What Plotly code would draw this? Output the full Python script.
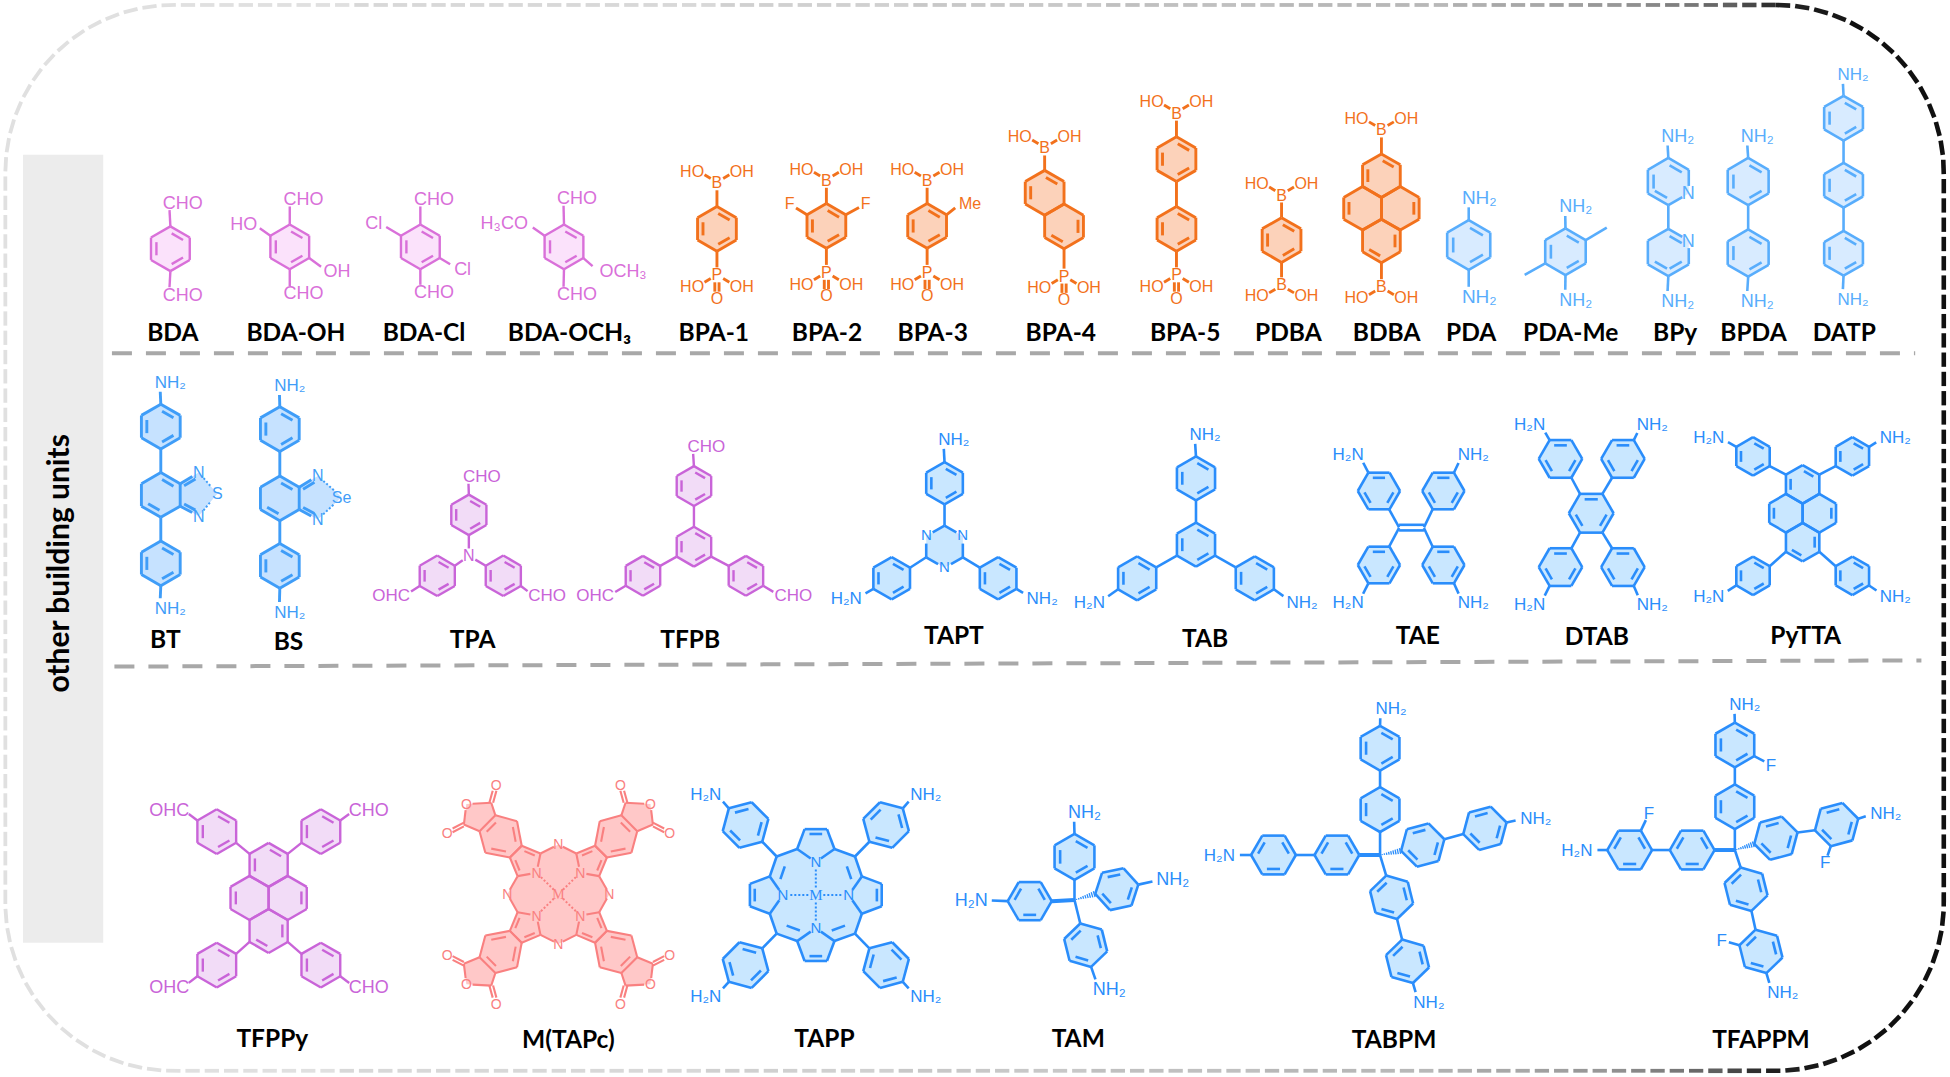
import numpy as np
import plotly.graph_objects as go

# --------------------------
# Compound names and where they sit (picture units, 1568 x 866)
# --------------------------
unit_names = ["BDA", "BDA-OH", "BDA-Cl", "BDA-OCH₃", "BPA-1", "BPA-2", "BPA-3", "BPA-4", "BPA-5",
              "PDBA", "BDBA", "PDA", "PDA-Me", "BPy", "BPDA", "DATP",
              "BT", "BS", "TPA", "TFPB", "TAPT", "TAB", "TAE", "DTAB", "PyTTA",
              "TFPPy", "M(TAPc)", "TAPP", "TAM", "TABPM", "TFAPPM"]
unit_x = [139, 238, 341, 458, 574, 665, 750, 853, 953, 1036, 1115, 1183, 1263, 1347, 1410, 1483,
          133, 232, 380, 555, 767, 969, 1140, 1284, 1452,
          219, 457, 663, 867, 1121, 1416]
unit_y = [269] * 16 + [516, 518, 516, 516, 513, 515, 513, 514, 513] + [837, 838, 837, 837, 838, 838]
side_title = "other building units"

PINK, PINK_F = "#d970d9", "#fbe2fb"
ORANGE, ORANGE_F = "#f2711c", "#fcd2ba"
BLUE1, BLUE1_F = "#58adfc", "#d8ebff"
BLUE2, BLUE2_F = "#3f9df8", "#c6e2ff"
BLUE3, BLUE3_F = "#2a8dfb", "#c9e7ff"
CORAL, CORAL_F = "#f98080", "#ffc8c8"
PINK2, PINK2_F = "#c964d8", "#f2dcf7"
FILLS = {PINK: PINK_F, ORANGE: ORANGE_F, BLUE1: BLUE1_F, BLUE2: BLUE2_F, BLUE3: BLUE3_F, CORAL: CORAL_F,
         PINK2: PINK2_F}
WIDTHS = {PINK: 2.4, ORANGE: 2.9, BLUE1: 2.6, BLUE2: 2.9, BLUE3: 2.6, CORAL: 2.1, PINK2: 2.4}
ATOM_FONT = "Liberation Sans"

W, H = 1568, 866
lines, fills, under, dots, bolds, hashes, texts = {}, {}, {}, {}, {}, {}, {}


# --------------------------
# Helpers for the drawing
# --------------------------
def bd(p, q, col, store=None):
    s = lines if store is None else store
    xs, ys = s.setdefault(col, ([], []))
    xs += [p[0], q[0], None]
    ys += [p[1], q[1], None]


def trim(p, q, a=0.0, b=0.0):
    p, q = np.array(p, float), np.array(q, float)
    u = (q - p) / np.linalg.norm(q - p)
    return tuple(p + u * a), tuple(q - u * b)


def txt(x, y, s, col, size=17, font=ATOM_FONT, weight="normal"):
    if font == ATOM_FONT:
        size = round(size * 1.04)
    xs, ys, ss = texts.setdefault((col, size, font, weight), ([], [], []))
    xs.append(x)
    ys.append(y + 1.2)
    ss.append(s)


def fill_poly(pts, col, store=None):
    s = fills if store is None else store
    xs, ys = s.setdefault(FILLS[col], ([], []))
    for p in list(pts) + [pts[0]]:
        xs.append(p[0])
        ys.append(p[1])
    xs.append(None)
    ys.append(None)


def inner(p, q, c, col, k=0.72):
    c = np.array(c, float)
    a = c + k * (np.array(p, float) - c)
    b = c + k * (np.array(q, float) - c)
    bd(*trim(a, b, 1.2, 1.2), col)


def ring(cx, cy, R, col, a=-90, db=(0, 2, 4), het=()):
    v = [(cx + R * np.cos(np.radians(a + 60 * i)), cy + R * np.sin(np.radians(a + 60 * i))) for i in range(6)]
    fill_poly(v, col)
    for i in range(6):
        j = (i + 1) % 6
        bd(*trim(v[i], v[j], 6 if i in het else 0, 6 if j in het else 0), col)
        if i in db:
            inner(v[i], v[j], (cx, cy), col)
    return v


def pyrene(cx, cy, R, col):
    d = 0.866 * R
    top = ring(cx, cy - 1.5 * R, R, col, db=(0, 4))
    left = ring(cx - d, cy, R, col, db=(4,))
    right = ring(cx + d, cy, R, col, db=(1,))
    bot = ring(cx, cy + 1.5 * R, R, col, db=(1, 3))
    return top, left, right, bot


def grp(p, lx, ly, s, col, ox=0, oy=0, gap=8, size=17):
    bd(*trim(p, (lx + ox, ly + oy), 0, gap), col)
    txt(lx, ly, s, col, size)


def nh2(p, lx, ly, col, left=False, size=17):
    if left:
        grp(p, lx, ly, "H₂N", col, ox=8.5, size=size)
    else:
        grp(p, lx, ly, "NH₂", col, ox=-8.5, size=size)


def cho(p, lx, ly, col, left=False, size=17):
    if left:
        grp(p, lx, ly, "OHC", col, ox=11, gap=6, size=size)
    else:
        grp(p, lx, ly, "CHO", col, ox=-11, gap=6, size=size)


def boron(v, yb, col, down=False, dx=20, size=15):
    s = -1 if down else 1
    cx = v[0]
    bd(v, (cx, yb + s * 6), col)
    txt(cx, yb, "B", col, size)
    yo = yb - s * 9
    txt(cx - dx, yo, "HO", col, size)
    txt(cx + dx, yo, "OH", col, size)
    bd((cx - 5, yb - s * 3.5), (cx - 10, yb - s * 6.5), col)
    bd((cx + 5, yb - s * 3.5), (cx + 10, yb - s * 6.5), col)


def phosphono(v, yp, col, dx=20, size=15):
    cx = v[0]
    bd(v, (cx, yp - 6), col)
    txt(cx, yp, "P", col, size)
    txt(cx - dx, yp + 9.5, "HO", col, size)
    txt(cx + dx, yp + 9.5, "OH", col, size)
    bd((cx - 5, yp + 3), (cx - 10, yp + 6), col)
    bd((cx + 5, yp + 3), (cx + 10, yp + 6), col)
    bd((cx - 1.7, yp + 6), (cx - 1.7, yp + 13.5), col)
    bd((cx + 1.7, yp + 6), (cx + 1.7, yp + 13.5), col)
    txt(cx, yp + 19, "O", col, size)


def hash_bond(p, q, col):
    p, q = np.array(p, float), np.array(q, float)
    u = (q - p) / np.linalg.norm(q - p)
    n = np.array([-u[1], u[0]])
    for i, t in enumerate(np.linspace(0.1, 0.95, 9)):
        m = p + (q - p) * t
        w = 0.4 + 0.25 * i
        bd(tuple(m - n * w), tuple(m + n * w), col, hashes)


def arm(c, centers, R, a, col, style="plain", dbs=None):
    # rings on a chain leaving the central carbon, vertex 0 points away from it
    last = c
    for k, rc in enumerate(centers):
        v = ring(rc[0], rc[1], R, col, a=a, db=(0, 2, 4) if dbs is None else dbs[k])
        if k == 0 and style == "bold":
            bd(last, v[3], col, bolds)
        elif k == 0 and style == "hash":
            hash_bond(last, v[3], col)
        else:
            bd(last, v[3], col)
        last = v[0]
    return last, v


# --------------------------
# Row 1: two-connected units
# --------------------------
v = ring(137, 200, 18, PINK)
cho(v[0], 147, 163, PINK)
cho(v[3], 147, 237, PINK)

v = ring(233, 198.5, 18, PINK)
cho(v[0], 244, 160, PINK)
cho(v[3], 244, 236, PINK)
grp(v[5], 196, 180, "HO", PINK, ox=8, gap=6)
grp(v[2], 271, 218, "OH", PINK, ox=-8, gap=6)

v = ring(338, 198.5, 18, PINK)
cho(v[0], 349, 160, PINK)
cho(v[3], 349, 235, PINK)
grp(v[5], 300.5, 179, "Cl", PINK, ox=4, gap=7)
grp(v[2], 372, 216, "Cl", PINK, ox=-4, gap=7)

v = ring(453.5, 198.5, 18, PINK)
cho(v[0], 464, 159.5, PINK)
cho(v[3], 464, 236.5, PINK)
grp(v[5], 405.5, 179.5, "H₃CO", PINK, ox=18, gap=6)
grp(v[2], 501, 218, "OCH₃", PINK, ox=-20, gap=6)

v = ring(576.5, 184, 18, ORANGE)
boron(v[0], 147, ORANGE)
phosphono(v[3], 221, ORANGE)

v = ring(664.5, 181.7, 18, ORANGE)
boron(v[0], 145, ORANGE)
phosphono(v[3], 219, ORANGE)
grp(v[5], 635, 164, "F", ORANGE, gap=6, size=15)
grp(v[1], 696, 164, "F", ORANGE, gap=6, size=15)

v = ring(745.5, 181.7, 18, ORANGE)
boron(v[0], 145, ORANGE)
phosphono(v[3], 219, ORANGE)
grp(v[1], 780, 164, "Me", ORANGE, ox=-8, gap=5, size=15)

v = ring(840, 155, 18, ORANGE, db=(0, 4))
boron(v[0], 119, ORANGE)
v = ring(855.6, 182, 18, ORANGE, db=(1, 3))
phosphono(v[3], 222, ORANGE)

v = ring(946, 128, 18, ORANGE)
boron(v[0], 91, ORANGE)
v2 = ring(946, 184, 18, ORANGE)
bd(v[3], v2[0], ORANGE)
phosphono(v2[3], 221, ORANGE)

v = ring(1030.5, 193, 18, ORANGE)
boron(v[0], 156.8, ORANGE)
boron(v[3], 229, ORANGE, down=True)

top, left, right, bot = pyrene(1110.8, 167.5, 17.5, ORANGE)
boron(top[0], 104.5, ORANGE)
boron(bot[3], 230.5, ORANGE, down=True)

v = ring(1181, 197, 20, BLUE1)
nh2(v[0], 1189.5, 158.7, BLUE1, size=18)
nh2(v[3], 1189.5, 238.6, BLUE1, size=18)

v = ring(1258.8, 202.4, 18.8, BLUE1)
nh2(v[0], 1267, 165.6, BLUE1)
nh2(v[3], 1267, 241, BLUE1)
bd(v[1], (1292, 183), BLUE1)
bd(v[4], (1226, 221), BLUE1)

v = ring(1341.5, 146, 19, BLUE1, het=(2,), db=(0, 3, 4))
nh2(v[0], 1349, 109, BLUE1)
v2 = ring(1341.5, 203, 19, BLUE1, het=(1,), db=(0, 2, 3))
nh2(v2[3], 1349, 242, BLUE1)
bd(v[3], v2[0], BLUE1)
txt(1357.6, 155.5, "N", BLUE1)
txt(1357.6, 193.5, "N", BLUE1)

v = ring(1405.7, 146, 19, BLUE1)
nh2(v[0], 1413, 109, BLUE1)
v2 = ring(1405.7, 203.5, 19, BLUE1)
nh2(v2[3], 1413, 242, BLUE1)
bd(v[3], v2[0], BLUE1)

v = ring(1482.4, 95, 18, BLUE1)
nh2(v[0], 1490, 59.5, BLUE1, size=16)
v2 = ring(1482.4, 149, 18, BLUE1)
v3 = ring(1482.4, 203.7, 18, BLUE1)
nh2(v3[3], 1490, 240.5, BLUE1, size=16)
bd(v[3], v2[0], BLUE1)
bd(v2[3], v3[0], BLUE1)

# rows 2 and 3 use a cooler pink
PINK = PINK2


# --------------------------
# Row 2
# --------------------------
def benzo_azole(cx, cy, xe, ye, label, col):
    v = ring(cx, cy, 18, col, db=(0, 3))
    up, dn = (cx + 30.5, cy - 18), (cx + 30.5, cy + 17)
    e = (xe, ye)
    fill_poly([v[1], up, e, dn, v[2]], col)
    bd(*trim(v[1], up, 0, 6), col)
    bd(*trim(v[2], dn, 0, 6), col)
    inner(v[1], up, (cx + 24, cy), col, 0.75)
    inner(v[2], dn, (cx + 24, cy), col, 0.75)
    for q in (up, dn):
        xs = trim(q, e, 6, 8)
        bd(*xs, col, dots)
    txt(up[0], up[1], "N", col, 15)
    txt(dn[0], dn[1], "N", col, 15)
    txt(xe, ye, label, col, 15)
    return v


v = ring(129.3, 343, 18, BLUE2)
nh2(v[0], 137, 307, BLUE2, size=16)
m = benzo_azole(129.3, 398, 174.7, 397, "S", BLUE2)
v3 = ring(129.3, 453, 18, BLUE2)
nh2(v3[3], 137, 489, BLUE2, size=16)
bd(v[3], m[0], BLUE2)
bd(m[3], v3[0], BLUE2)

v = ring(225, 345, 18, BLUE2)
nh2(v[0], 233, 309.6, BLUE2, size=16)
m = benzo_azole(225, 400.7, 274.7, 399.7, "Se", BLUE2)
v3 = ring(225, 455, 18, BLUE2)
nh2(v3[3], 233, 492, BLUE2, size=16)
bd(v[3], m[0], BLUE2)
bd(m[3], v3[0], BLUE2)

v = ring(377, 414, 16.3, PINK)
cho(v[0], 387.5, 383, PINK, size=16)
lf = ring(351.6, 463, 16.3, PINK)
rt = ring(404.7, 463, 16.3, PINK)
bd(*trim(v[3], (377, 447), 0, 6), PINK)
bd(*trim(lf[1], (377, 447), 0, 6), PINK)
bd(*trim(rt[5], (377, 447), 0, 6), PINK)
txt(377, 447, "N", PINK, 15)
cho(lf[4], 314.5, 479, PINK, left=True, size=16)
cho(rt[2], 440, 479, PINK, size=16)

c = ring(558, 439.6, 16, PINK)
v = ring(558, 390.8, 16, PINK)
lf = ring(517, 463, 16, PINK)
rt = ring(599.8, 463, 16, PINK)
bd(c[0], v[3], PINK)
bd(c[4], lf[1], PINK)
bd(c[2], rt[5], PINK)
cho(v[0], 568, 359, PINK, size=16)
cho(lf[4], 478.5, 479, PINK, left=True, size=16)
cho(rt[2], 638, 479, PINK, size=16)

c = ring(759.5, 439.6, 17, BLUE3, het=(1, 3, 5), db=())
v = ring(759.5, 388.6, 17, BLUE3)
lf = ring(717, 465, 17, BLUE3)
rt = ring(802.6, 465, 17, BLUE3)
bd(c[0], v[3], BLUE3)
bd(c[4], lf[1], BLUE3)
bd(c[2], rt[5], BLUE3)
txt(745, 430, "N", BLUE3, 14)
txt(774, 430, "N", BLUE3, 14)
txt(759.5, 456, "N", BLUE3, 14)
nh2(v[0], 767, 353, BLUE3, size=16)
nh2(lf[4], 680.5, 481, BLUE3, left=True, size=16)
nh2(rt[2], 838, 481, BLUE3, size=16)

c = ring(961.7, 438, 17.7, BLUE3)
v = ring(961.7, 384.6, 17.7, BLUE3)
lf = ring(914.4, 465, 17.7, BLUE3)
rt = ring(1009, 465, 17.7, BLUE3)
bd(c[0], v[3], BLUE3)
bd(c[4], lf[1], BLUE3)
bd(c[2], rt[5], BLUE3)
nh2(v[0], 969, 349, BLUE3, size=16)
nh2(lf[4], 876, 484, BLUE3, left=True, size=16)
nh2(rt[2], 1047, 484, BLUE3, size=16)

# TAE, flat rings round a C=C
xl, xr, yu, yd = 1108.8, 1160.6, 394.8, 454.3
ul = ring(xl, yu, 17, BLUE3, a=0, db=(2, 4, 0))
ur = ring(xr, yu, 17, BLUE3, a=0, db=(2, 4, 0))
dl = ring(xl, yd, 17, BLUE3, a=0, db=(2, 4, 0))
dr = ring(xr, yd, 17, BLUE3, a=0, db=(2, 4, 0))
bd((1125, 422), (1145, 422), BLUE3)
bd((1125, 426.5), (1145, 426.5), BLUE3)
bd((1125, 424), (1117, ul[1][1]), BLUE3)
bd((1145, 424), (1152, ur[2][1]), BLUE3)
bd((1125, 424.5), (1117, dl[5][1]), BLUE3)
bd((1145, 424.5), (1152, dr[4][1]), BLUE3)
nh2(ul[4], 1084, 365, BLUE3, left=True, size=16)
nh2(ur[5], 1184.7, 365, BLUE3, size=16)
nh2(dl[2], 1084, 484.6, BLUE3, left=True, size=16)
nh2(dr[1], 1184.7, 484.6, BLUE3, size=16)

# DTAB
c = ring(1279.5, 412.7, 18, BLUE3, a=0, db=(2, 4, 0))
ul = ring(1254.8, 369, 17.5, BLUE3, a=0, db=(2, 4, 0))
ur = ring(1305, 369, 17.5, BLUE3, a=0, db=(2, 4, 0))
dl = ring(1254.8, 456, 17.5, BLUE3, a=0, db=(2, 4, 0))
dr = ring(1305, 456, 17.5, BLUE3, a=0, db=(2, 4, 0))
bd(ul[1], c[4], BLUE3)
bd(ur[2], c[5], BLUE3)
bd(dl[5], c[2], BLUE3)
bd(dr[4], c[1], BLUE3)
nh2(ul[4], 1230, 341, BLUE3, left=True, size=16)
nh2(ur[5], 1328.6, 341, BLUE3, size=16)
nh2(dl[2], 1230, 486, BLUE3, left=True, size=16)
nh2(dr[1], 1328.6, 486, BLUE3, size=16)

# PyTTA
top, left, right, bot = pyrene(1449.5, 412.7, 15.5, BLUE3)
ul = ring(1409.6, 367, 15.5, BLUE3)
ur = ring(1489.5, 367, 15.5, BLUE3)
dl = ring(1409.6, 463, 15.5, BLUE3)
dr = ring(1489.5, 463, 15.5, BLUE3)
bd(top[5], ul[2], BLUE3)
bd(top[1], ur[4], BLUE3)
bd(bot[4], dl[1], BLUE3)
bd(bot[2], dr[5], BLUE3)
nh2(ul[5], 1374, 351.6, BLUE3, left=True, size=16)
nh2(ur[1], 1524, 351.6, BLUE3, size=16)
nh2(dl[4], 1374, 479.3, BLUE3, left=True, size=16)
nh2(dr[2], 1524, 479.3, BLUE3, size=16)


# --------------------------
# Row 3
# --------------------------
top, left, right, bot = pyrene(216, 722, 17.7, PINK)
ul = ring(174.3, 668.7, 18, PINK)
ur = ring(258, 668.7, 18, PINK)
dl = ring(174.3, 776, 18, PINK)
dr = ring(258, 776, 18, PINK)
bd(top[5], ul[2], PINK)
bd(top[1], ur[4], PINK)
bd(bot[4], dl[1], PINK)
bd(bot[2], dr[5], PINK)
cho(ul[5], 136, 651, PINK, left=True, size=17)
cho(ur[1], 296.6, 651, PINK, size=17)
cho(dl[4], 136, 794, PINK, left=True, size=17)
cho(dr[2], 296.6, 794, PINK, size=17)

# M(TAPc): one quadrant, mirrored four times
mx, my = 449, 719
core = []
for sx, sy in [(-1, -1), (1, -1), (1, 1), (-1, 1)]:
    P = lambda x, y: (mx + sx * x, my + sy * y)
    a1, a2 = P(-14.4, -32.7), P(-32.8, -14.5)
    b1, b2 = P(-29.5, -39), P(-39, -29.5)
    n_in = P(-17.6, -17.2)
    n_top, n_side = P(0, -40), P(-41, 0)
    pyr = [a1, b1, b2, a2, n_in]
    fill_poly(pyr, CORAL, under)
    bd(a1, b1, CORAL)
    bd(b1, b2, CORAL)
    bd(b2, a2, CORAL)
    bd(*trim(a1, n_in, 0, 5), CORAL)
    bd(*trim(a2, n_in, 0, 5), CORAL)
    inner(a1, b1, P(-26, -26), CORAL, 0.7)
    inner(a2, b2, P(-26, -26), CORAL, 0.7)
    bd(*trim(a1, n_top, 0, 4), CORAL)
    bd(*trim(a2, n_side, 0, 4), CORAL)
    bd(*trim(n_in, (mx, my), 5, 5), CORAL, dots)
    txt(n_in[0], n_in[1], "N", CORAL, 13)
    # benzene
    h = [P(-46 + 18 * np.cos(np.radians(t)), -46 + 18 * np.sin(np.radians(t))) for t in (15, 75, 135, 195, 255, 315)]
    h[0], h[1] = b1, b2
    fill_poly(h, CORAL)
    for i in range(6):
        bd(h[i], h[(i + 1) % 6], CORAL)
    inner(h[1], h[2], P(-46, -46), CORAL)
    inner(h[3], h[4], P(-46, -46), CORAL)
    inner(h[5], h[0], P(-46, -46), CORAL)
    # anhydride
    c1, c2 = P(-54, -73.5), P(-76, -56)
    o_r = P(-74, -72.5)
    fill_poly([h[4], c1, o_r, c2, h[3]], CORAL)
    bd(h[4], c1, CORAL)
    bd(h[3], c2, CORAL)
    bd(*trim(c1, o_r, 0, 5), CORAL)
    bd(*trim(c2, o_r, 0, 5), CORAL)
    txt(o_r[0], o_r[1], "O", CORAL, 13)
    for cc, oo, nn in ((c1, P(-50, -88), (1.5, 0)), (c2, P(-89.5, -49), (0, 1.5))):
        q1, q2 = trim(cc, oo, 0, 5)
        bd((q1[0] + nn[0], q1[1] + nn[1]), (q2[0] + nn[0], q2[1] + nn[1]), CORAL)
        bd((q1[0] - nn[0], q1[1] - nn[1]), (q2[0] - nn[0], q2[1] - nn[1]), CORAL)
        txt(oo[0], oo[1], "O", CORAL, 13)
for q in [(-14.4, -32.7), (0, -40), (14.4, -32.7), (32.8, -14.5), (41, 0), (32.8, 14.5),
          (14.4, 32.7), (0, 40), (-14.4, 32.7), (-32.8, 14.5), (-41, 0), (-32.8, -14.5)]:
    core.append((mx + q[0], my + q[1]))
fill_poly(core, CORAL)
txt(mx, my - 40, "N", CORAL, 13)
txt(mx, my + 40, "N", CORAL, 13)
txt(mx - 41, my, "N", CORAL, 13)
txt(mx + 41, my, "N", CORAL, 13)
txt(mx, my, "M", CORAL, 14, "Liberation Serif")

# TAPP
mx, my = 656, 719.7
corners = [(-1, -1), (1, -1), (1, 1), (-1, 1)]
for sx, sy in corners:
    P = lambda x, y: (mx + sx * x, my + sy * y)
    meso = P(31.5, 31)
    # phenyl on the corner
    rc = P(56.5, 56.3)
    ang = np.degrees(np.arctan2(sy, sx))
    ph = ring(rc[0], rc[1], 19, BLUE3, a=ang)
    bd(meso, ph[3], BLUE3)
    lab = (mx + sx * 88.5, my + sy * 81)
    nh2(ph[0], lab[0], lab[1], BLUE3, left=sx < 0, size=16)
    bd(meso, P(37, 15), BLUE3)
    bd(meso, P(15, 37), BLUE3)
    if sy < 0:
        inner(meso, P(37, 15), (mx, my), BLUE3, 0.78)
    else:
        inner(meso, P(15, 37), (mx, my), BLUE3, 0.78)
for s, horiz in [(-1, False), (1, False), (-1, True), (1, True)]:
    T = (lambda u, w: (mx + s * w, my + u)) if horiz else (lambda u, w: (mx + u, my + s * w))
    al, be1, be2, ar = T(-15, 37), T(-9, 53), T(9, 53), T(15, 37)
    n = T(0, 26.5)
    fill_poly([al, be1, be2, ar, n], BLUE3, under)
    bd(al, be1, BLUE3)
    bd(be1, be2, BLUE3)
    bd(be2, ar, BLUE3)
    inner(be1, be2, T(0, 40), BLUE3, 0.7)
    bd(*trim(al, n, 0, 5), BLUE3)
    bd(*trim(ar, n, 0, 5), BLUE3)
    txt(n[0], n[1], "N", BLUE3, 14)
    bd(*trim(n, (mx, my), 6, 6), BLUE3, dots)
octo = []
for q in [(-15, -37), (15, -37), (31.5, -31), (37, -15), (37, 15), (31.5, 31), (15, 37), (-15, 37),
          (-31.5, 31), (-37, 15), (-37, -15), (-31.5, -31)]:
    octo.append((mx + q[0], my + q[1]))
fill_poly(octo, BLUE3)
txt(mx, my, "M", BLUE3, 15, "Liberation Serif")

# TAM
c = (864, 723.7)
end, v = arm(c, [(864, 689)], 18.5, -90, BLUE3)
nh2(end, 872, 652.7, BLUE3, size=17)
end, v = arm(c, [(828, 724.6)], 17.7, 180, BLUE3, style="bold")
nh2(end, 781, 723.7, BLUE3, left=True, size=17)
end, v = arm(c, [(898, 715)], 17.7, -12, BLUE3, style="hash")
nh2(end, 943, 707, BLUE3, size=17)
end, v = arm(c, [(873, 760)], 18, 76, BLUE3)
nh2(end, 892, 795, BLUE3, size=17)

# TABPM
c = (1109.7, 687.5)
end, v = arm(c, [(1109.7, 651), (1109.7, 601.6)], 18, -90, BLUE3)
nh2(end, 1118.6, 569.6, BLUE3, size=16)
end, v = arm(c, [(1075, 687.5), (1024, 687.5)], 18, 180, BLUE3, style="bold")
nh2(end, 980.5, 687.5, BLUE3, left=True, size=16)
end, v = arm(c, [(1144, 679.5), (1194, 666)], 18, -15, BLUE3, style="hash")
nh2(end, 1235, 658, BLUE3, size=16)
end, v = arm(c, [(1119, 721.5), (1131.8, 773)], 18, 76, BLUE3)
nh2(end, 1149, 805.5, BLUE3, size=16)

# TFAPPM
c = (1395, 683.5)
end, v = arm(c, [(1395, 648.7), (1395, 599)], 18, -90, BLUE3)
nh2(end, 1403, 566, BLUE3, size=16)
grp(v[2], 1424, 615, "F", BLUE3, gap=6, size=16)
end, v = arm(c, [(1360.7, 683.5), (1310.4, 683.5)], 18, 180, BLUE3, style="bold")
nh2(end, 1268, 683.5, BLUE3, left=True, size=16)
grp(v[2], 1326, 654, "F", BLUE3, gap=6, size=16)
end, v = arm(c, [(1428, 674), (1476.8, 663)], 18, -15, BLUE3, style="hash")
nh2(end, 1516.4, 654, BLUE3, size=16)
grp(v[2], 1467.6, 693.7, "F", BLUE3, gap=6, size=16)
end, v = arm(c, [(1404, 715), (1416, 765)], 18, 76, BLUE3)
nh2(end, 1433.5, 798, BLUE3, size=16)
grp(v[2], 1384.4, 756, "F", BLUE3, gap=6, size=16)


# --------------------------
# Frame with the grey-to-black dashes
# --------------------------
def frame_points():
    x0, x1, y0, y1, r = 4.3, 1563, 4, 861, 135
    pts = []
    arcs = [(x1 - r, y0 + r, -90), (x1 - r, y1 - r, 0), (x0 + r, y1 - r, 90), (x0 + r, y0 + r, 180)]
    for cx, cy, a0 in arcs:
        for t in np.linspace(a0, a0 + 90, 60):
            pts.append((cx + r * np.cos(np.radians(t)), cy + r * np.sin(np.radians(t))))
    pts.append(pts[0])
    return np.array(pts)


pts = frame_points()
seg = np.hypot(*np.diff(pts, axis=0).T)
dist = np.concatenate([[0], np.cumsum(seg)])
grey_x = [0, 600, 1150, 1300, 1380, 1425, 1500]
grey_v = [232, 215, 185, 155, 105, 40, 20]
frame = {}
for s in np.arange(0, dist[-1], 15.5):
    px = np.interp([s, s + 11.5], dist, pts[:, 0])
    py = np.interp([s, s + 11.5], dist, pts[:, 1])
    g = int(np.interp(px[0], grey_x, grey_v)) // 8 * 8
    xs, ys = frame.setdefault(g, ([], []))
    xs += [px[0], px[1], None]
    ys += [py[0], py[1], None]

# --------------------------
# Figure
# --------------------------
fig = go.Figure()
fig.add_trace(go.Scatter(x=[18.5, 83, 83, 18.5, 18.5], y=[124.5, 124.5, 758, 758, 124.5], mode="none",
                         fill="toself", fillcolor="#ececec", hoverinfo="skip"))
for g, (xs, ys) in frame.items():
    fig.add_trace(go.Scatter(x=xs, y=ys, mode="lines", hoverinfo="skip",
                             line=dict(color=f"rgb({g},{g},{g})", width=3.8 if g > 100 else 4.6)))
for xs, ys in [([90, 1540], [284, 284]), ([92, 1545], [536, 531])]:
    fig.add_trace(go.Scatter(x=xs, y=ys, mode="lines", hoverinfo="skip",
                             line=dict(color="#a8a8a8", width=4, dash="20px,14px")))
for store in (under, fills):
    for col, (xs, ys) in store.items():
        fig.add_trace(go.Scatter(x=xs, y=ys, mode="none", fill="toself", fillcolor=col, hoverinfo="skip"))
for col, (xs, ys) in lines.items():
    fig.add_trace(go.Scatter(x=xs, y=ys, mode="lines", hoverinfo="skip",
                             line=dict(color=col, width=WIDTHS[col], simplify=False)))
for col, (xs, ys) in bolds.items():
    fig.add_trace(go.Scatter(x=xs, y=ys, mode="lines", hoverinfo="skip", line=dict(color=col, width=4)))
for col, (xs, ys) in hashes.items():
    fig.add_trace(go.Scatter(x=xs, y=ys, mode="lines", hoverinfo="skip", line=dict(color=col, width=1.3)))
for col, (xs, ys) in dots.items():
    fig.add_trace(go.Scatter(x=xs, y=ys, mode="lines", hoverinfo="skip",
                             line=dict(color=col, width=2, dash="2px,2px")))
for (col, size, font, weight), (xs, ys, ss) in texts.items():
    fig.add_trace(go.Scatter(x=xs, y=ys, text=ss, mode="text", textposition="middle center", hoverinfo="skip",
                             textfont=dict(color=col, size=size, family=font, weight=weight)))
fig.add_trace(go.Scatter(x=unit_x, y=unit_y, text=unit_names, mode="text", textposition="middle center",
                         hoverinfo="skip", textfont=dict(color="black", size=24.5, family="Lato", weight="bold")))

fig.update_layout(
    width=1950, height=1077,
    margin=dict(l=0, r=0, t=0, b=0),
    paper_bgcolor="white", plot_bgcolor="white",
    showlegend=False,
    xaxis=dict(range=[0, W], visible=False, fixedrange=True),
    yaxis=dict(range=[H, 0], visible=False, fixedrange=True),
    annotations=[dict(x=46, y=453, xref="x", yref="y", text=side_title, textangle=-90, showarrow=False,
                      font=dict(family="Lato", size=30, color="black", weight="bold"))],
)
fig.write_html("out.html", config=dict(displayModeBar=False), post_script="document.body.style.margin='0';")
